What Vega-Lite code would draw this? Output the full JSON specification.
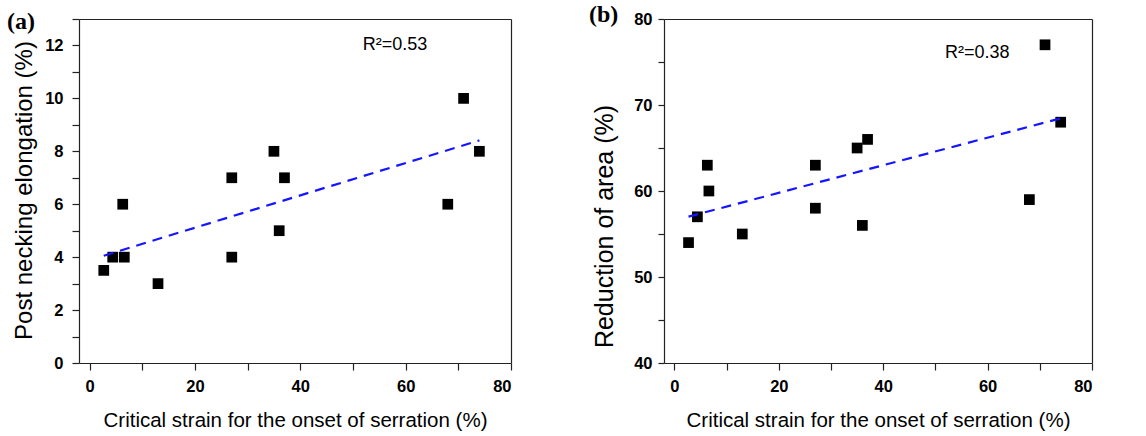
{
  "$schema": "https://vega.github.io/schema/vega-lite/v6.json",
  "background": "white",
  "padding": {"left": 7, "top": 3, "right": 4, "bottom": 2},
  "datasets": {
    "a": [
      {"x": 2.7, "y": 3.5}, {"x": 4.4, "y": 4}, {"x": 6.3, "y": 6}, {"x": 6.6, "y": 4},
      {"x": 13, "y": 3}, {"x": 27, "y": 7}, {"x": 27, "y": 4}, {"x": 35, "y": 8},
      {"x": 36, "y": 5}, {"x": 37, "y": 7}, {"x": 68, "y": 6}, {"x": 71, "y": 10}, {"x": 74, "y": 8}
    ],
    "b": [
      {"x": 2.7, "y": 54}, {"x": 4.4, "y": 57}, {"x": 6.3, "y": 63}, {"x": 6.6, "y": 60},
      {"x": 13, "y": 55}, {"x": 27, "y": 63}, {"x": 27, "y": 58}, {"x": 35, "y": 65},
      {"x": 36, "y": 56}, {"x": 37, "y": 66}, {"x": 68, "y": 59}, {"x": 71, "y": 77}, {"x": 74, "y": 68}
    ],
    "ra": [{"x": 58, "y": 12, "t": "R²=0.53"}],
    "rb": [{"x": 58, "y": 76, "t": "R²=0.38"}]
  },
  "config": {
    "view": {"stroke": null},
    "axis": {
      "domainColor": "#222", "domainWidth": 1.2, "tickColor": "#222", "tickWidth": 1.2, "grid": false, "ticks": true,
      "labelFont": "Liberation Sans", "labelFontWeight": "bold", "labelFontSize": 16.5, "labelColor": "black",
      "titleFont": "Liberation Sans", "titleFontWeight": "normal", "titleFontSize": 20.5, "titleColor": "black"
    },
    "title": {"font": "Liberation Serif", "fontWeight": "bold", "fontSize": 24, "color": "black", "anchor": "start", "frame": "group"}
  },
  "spacing": 77,
  "hconcat": [
    {
      "width": 432, "height": 344,
      "title": {"text": "(a)", "dx": -72, "baseline": "top", "offset": -16},
      "resolve": {"axis": {"x": "independent", "y": "independent"}},
      "layer": [
        {
          "data": {"name": "a"},
          "mark": {"type": "square", "size": 115, "color": "black", "opacity": 1},
          "encoding": {
            "x": {"field": "x", "type": "quantitative", "scale": {"domain": [-2, 80], "nice": false, "zero": false},
              "axis": {"orient": "bottom", "title": "Critical strain for the onset of serration (%)", "values": [0,10,20,30,40,50,60,70,80],
                "labelExpr": "datum.value % 20 === 0 ? datum.label : ''", "tickSize": 7, "labelPadding": 8, "titlePadding": 16,
                "encode": {"ticks": {"update": {"y2": {"signal": "datum.value % 20 === 0 ? 7 : 4"}}}}}},
            "y": {"field": "y", "type": "quantitative", "scale": {"domain": [0, 13], "nice": false, "zero": false},
              "axis": {"orient": "left", "title": "Post necking elongation (%)", "titleFontSize": 24, "titleY": 171, "values": [0,1,2,3,4,5,6,7,8,9,10,11,12,13],
                "labelExpr": "datum.value % 2 === 0 && datum.value < 13 ? datum.label : ''", "tickSize": 7, "labelPadding": 9, "titlePadding": 8,
                "encode": {"ticks": {"update": {"x2": {"signal": "datum.value % 2 === 0 ? -7 : -4"}}}}}}
          }
        },
        {
          "data": {"name": "a"},
          "transform": [{"regression": "y", "on": "x"}],
          "mark": {"type": "line", "color": "#1515ff", "strokeWidth": 2.2, "strokeDash": [10, 7]},
          "encoding": {
            "x": {"field": "x", "type": "quantitative", "scale": {"domain": [-2, 80], "nice": false, "zero": false},
              "axis": {"orient": "top", "title": null, "labels": false, "values": [0,10,20,30,40,50,60,70,80], "tickSize": 0,
                "encode": {"ticks": {"update": {"y2": {"signal": "datum.value % 20 === 0 ? 5 : 3"}}}}}},
            "y": {"field": "y", "type": "quantitative", "scale": {"domain": [0, 13], "nice": false, "zero": false},
              "axis": {"orient": "right", "title": null, "labels": false, "values": [0,1,2,3,4,5,6,7,8,9,10,11,12,13], "tickSize": 0,
                "encode": {"ticks": {"update": {"x2": {"signal": "datum.value % 2 === 0 ? -5 : -3"}}}}}}
          }
        },
        {
          "data": {"name": "ra"},
          "mark": {"type": "text", "font": "Liberation Sans", "fontSize": 18, "color": "black"},
          "encoding": {
            "x": {"field": "x", "type": "quantitative", "axis": null},
            "y": {"field": "y", "type": "quantitative", "axis": null},
            "text": {"field": "t"}
          }
        }
      ]
    },
    {
      "width": 428, "height": 344,
      "title": {"text": "(b)", "dx": -75, "baseline": "top", "offset": -16},
      "resolve": {"axis": {"x": "independent", "y": "independent"}},
      "layer": [
        {
          "data": {"name": "b"},
          "mark": {"type": "square", "size": 115, "color": "black", "opacity": 1},
          "encoding": {
            "x": {"field": "x", "type": "quantitative", "scale": {"domain": [-2, 80], "nice": false, "zero": false},
              "axis": {"orient": "bottom", "title": "Critical strain for the onset of serration (%)", "values": [0,10,20,30,40,50,60,70,80],
                "labelExpr": "datum.value % 20 === 0 ? datum.label : ''", "tickSize": 7, "labelPadding": 8, "titlePadding": 16,
                "encode": {"ticks": {"update": {"y2": {"signal": "datum.value % 20 === 0 ? 7 : 4"}}}}}},
            "y": {"field": "y", "type": "quantitative", "scale": {"domain": [40, 80], "nice": false, "zero": false},
              "axis": {"orient": "left", "title": "Reduction of area (%)", "titleFontSize": 25, "titleY": 207, "values": [40,45,50,55,60,65,70,75,80],
                "labelExpr": "datum.value % 10 === 0 ? datum.label : ''", "tickSize": 6, "labelPadding": 6, "titlePadding": 16,
                "encode": {"ticks": {"update": {"x2": {"signal": "datum.value % 10 === 0 ? -6 : -4"}}}}}}
          }
        },
        {
          "data": {"name": "b"},
          "transform": [{"regression": "y", "on": "x"}],
          "mark": {"type": "line", "color": "#1515ff", "strokeWidth": 2.2, "strokeDash": [10, 7]},
          "encoding": {
            "x": {"field": "x", "type": "quantitative", "scale": {"domain": [-2, 80], "nice": false, "zero": false},
              "axis": {"orient": "top", "title": null, "labels": false, "values": [0,10,20,30,40,50,60,70,80], "tickSize": 0,
                "encode": {"ticks": {"update": {"y2": {"signal": "datum.value % 20 === 0 ? 5 : 3"}}}}}},
            "y": {"field": "y", "type": "quantitative", "scale": {"domain": [40, 80], "nice": false, "zero": false},
              "axis": {"orient": "right", "title": null, "labels": false, "values": [40,45,50,55,60,65,70,75,80], "tickSize": 0,
                "encode": {"ticks": {"update": {"x2": {"signal": "datum.value % 10 === 0 ? -5 : -3"}}}}}}
          }
        },
        {
          "data": {"name": "rb"},
          "mark": {"type": "text", "font": "Liberation Sans", "fontSize": 18, "color": "black"},
          "encoding": {
            "x": {"field": "x", "type": "quantitative", "axis": null},
            "y": {"field": "y", "type": "quantitative", "axis": null},
            "text": {"field": "t"}
          }
        }
      ]
    }
  ]
}
